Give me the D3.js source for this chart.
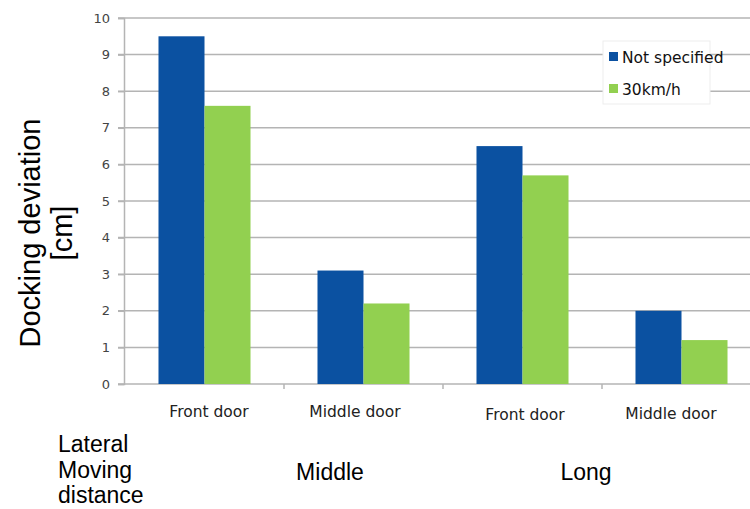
<!DOCTYPE html>
<html>
<head>
<meta charset="utf-8">
<script src="https://cdn.jsdelivr.net/npm/d3@7/dist/d3.min.js"></script>
<style>
  html, body { margin: 0; padding: 0; background: #fff; }
  svg { display: block; }
</style>
</head>
<body>
<svg id="chart" width="750" height="509"></svg>
<script>
// Docking deviation by door and lateral moving distance
const categories = ["Front door", "Middle door", "Front door", "Middle door"];
const distanceGroups = ["Middle", "Long"];
const seriesNames = ["Not specified", "30km/h"];
const notSpecified = [9.5, 3.1, 6.5, 2.0];
const speed30 = [7.6, 2.2, 5.7, 1.2];
const yTicks = [0, 1, 2, 3, 4, 5, 6, 7, 8, 9, 10];

const colors = ["#0b51a1", "#92d050"];
const series = [notSpecified, speed30];

const svg = d3.select("#chart");
const plotLeft = 124, plotTop = 18, plotBottom = 384, step = 159;
const gridColor = "#b4b4b4";

const x = d3.scaleBand()
  .domain(d3.range(categories.length))
  .range([plotLeft + 1, plotLeft + 1 + step * categories.length])
  .paddingInner(0).paddingOuter(0);

const xSub = d3.scaleBand()
  .domain(d3.range(series.length))
  .range([0, x.bandwidth()])
  .paddingInner(0).paddingOuter(0.728);

const y = d3.scaleLinear().domain([0, 10]).range([plotBottom, plotTop]);

// gridlines
svg.append("g")
  .selectAll("line")
  .data(yTicks.filter(d => d > 0))
  .join("line")
  .attr("x1", plotLeft - 6).attr("x2", 750)
  .attr("y1", d => y(d)).attr("y2", d => y(d))
  .attr("stroke", gridColor).attr("stroke-width", 1.5);

// y axis
const yAxis = svg.append("g")
  .attr("transform", `translate(${plotLeft},0)`)
  .call(d3.axisLeft(y).tickValues(yTicks).tickSize(6).tickPadding(8));
yAxis.select(".domain").attr("stroke", gridColor).attr("stroke-width", 1.5);
yAxis.selectAll(".tick line").attr("stroke", gridColor).attr("stroke-width", 1.5);
yAxis.selectAll(".tick text")
  .attr("fill", "#444").attr("font-family", "DejaVu Sans, sans-serif")
  .attr("font-size", 13);

// x axis baseline with ticks between categories
svg.append("line")
  .attr("x1", plotLeft - 6).attr("x2", 750)
  .attr("y1", plotBottom).attr("y2", plotBottom)
  .attr("stroke", gridColor).attr("stroke-width", 1.5);
svg.append("g")
  .selectAll("line")
  .data(d3.range(1, categories.length))
  .join("line")
  .attr("x1", d => x(d)).attr("x2", d => x(d))
  .attr("y1", plotBottom).attr("y2", plotBottom + 5)
  .attr("stroke", gridColor).attr("stroke-width", 1.5);

// bars
series.forEach((vals, s) => {
  svg.append("g")
    .selectAll("rect")
    .data(vals)
    .join("rect")
    .attr("x", (d, i) => x(i) + xSub(s))
    .attr("width", xSub.bandwidth())
    .attr("y", d => y(d))
    .attr("height", d => y(0) - y(d))
    .attr("fill", colors[s]);
});

// category labels
const labelOffsets = [4.5, -8.5, 2.5, -10.5];
const labelY = [417, 417, 420, 419];
svg.append("g")
  .selectAll("text")
  .data(categories)
  .join("text")
  .attr("x", (d, i) => x(i) + x.bandwidth() / 2 + labelOffsets[i])
  .attr("y", (d, i) => labelY[i])
  .attr("text-anchor", "middle")
  .attr("font-family", "DejaVu Sans, sans-serif")
  .attr("font-size", 15.5)
  .attr("fill", "#222")
  .text(d => d);

// lateral moving distance row
const rowFont = "Liberation Sans, Arial, sans-serif";
["Lateral", "Moving", "distance"].forEach((t, i) => {
  svg.append("text")
    .attr("x", 58).attr("y", 452 + i * 25.5)
    .attr("font-family", rowFont).attr("font-size", 23)
    .attr("fill", "#000").text(t);
});
const groupX = [330, 586];
distanceGroups.forEach((g, i) => {
  svg.append("text")
    .attr("x", groupX[i]).attr("y", 480)
    .attr("text-anchor", "middle")
    .attr("font-family", rowFont).attr("font-size", 23)
    .attr("fill", "#000").text(g);
});

// y axis title
const yt = svg.append("text")
  .attr("transform", "translate(0,233) rotate(-90)")
  .attr("text-anchor", "middle")
  .attr("font-family", rowFont).attr("font-size", 29)
  .attr("fill", "#000");
yt.append("tspan").attr("x", 0).attr("y", 40).text("Docking deviation");
yt.append("tspan").attr("x", 0).attr("y", 72).text("[cm]");

// legend
const lg = svg.append("g").attr("transform", "translate(603,41)");
lg.append("rect").attr("width", 107).attr("height", 63)
  .attr("fill", "#fff").attr("stroke", "#ededed").attr("stroke-width", 1);
seriesNames.forEach((n, i) => {
  lg.append("rect")
    .attr("x", 6).attr("y", 11 + i * 32)
    .attr("width", 9).attr("height", 9)
    .attr("fill", colors[i]);
  lg.append("text")
    .attr("x", 19).attr("y", 21.5 + i * 32)
    .attr("font-family", "DejaVu Sans, sans-serif")
    .attr("font-size", 15.5).attr("fill", "#111")
    .text(n);
});
</script>
</body>
</html>
